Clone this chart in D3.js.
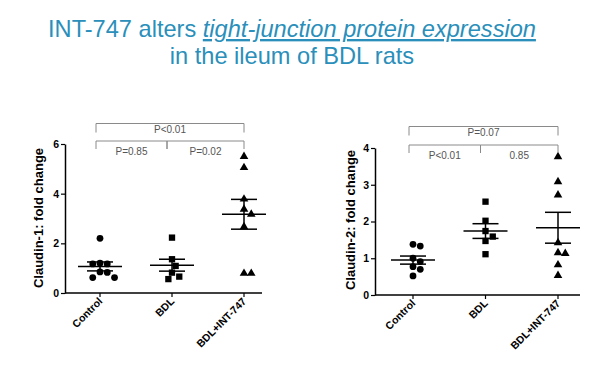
<!DOCTYPE html>
<html>
<head>
<meta charset="utf-8">
<script src="https://cdn.jsdelivr.net/npm/d3@7"></script>
<style>
  body { margin: 0; background: #fff; }
  svg { font-family: "Liberation Sans", Arial, sans-serif; }
</style>
</head>
<body>
<div id="vis"></div>
<script>
// groups on the x axis
var groups = ["Control", "BDL", "BDL+INT-747"];
var shapes = ["circle", "square", "triangle"];

// claudin-1 values per group
var cld1Control = [2.2, 1.2, 1.17, 1.17, 0.85, 0.83, 0.62, 0.62];
var cld1BDL = [2.23, 1.36, 1.09, 0.82, 0.66, 0.56];
var cld1INT = [5.5, 5.05, 3.78, 3.37, 3.17, 2.67, 0.79, 0.79];
var cld1Mean = [1.07, 1.12, 3.17];
var cld1Sem = [0.18, 0.24, 0.6];
var cld1Ticks = [0, 2, 4, 6];

// claudin-2 values per group
var cld2Control = [1.38, 1.33, 1.0, 0.91, 0.77, 0.7, 0.52];
var cld2BDL = [2.54, 2.02, 1.74, 1.59, 1.47, 1.11];
var cld2INT = [3.76, 3.08, 2.72, 1.42, 1.15, 1.13, 0.82, 0.53];
var cld2Mean = [0.95, 1.74, 1.83];
var cld2Sem = [0.11, 0.2, 0.42];
var cld2Ticks = [0, 1, 2, 3, 4];

// p-value labels: [upper long bracket, left short, right short]
var cld1P = ["P<0.01", "P=0.85", "P=0.02"];
var cld2P = ["P=0.07", "P<0.01", "0.85"];

var width = 609, height = 375;
var titleColor = "#2a8fba";

var svg = d3.select("#vis").append("svg")
  .attr("width", width)
  .attr("height", height);

// title
var title = svg.append("text")
  .attr("x", 292)
  .attr("y", 37)
  .attr("text-anchor", "middle")
  .attr("fill", titleColor)
  .style("font-size", "23.6px");
title.append("tspan").text("INT-747 alters ");
title.append("tspan")
  .style("font-style", "italic")
  .style("text-decoration", "underline")
  .text("tight-junction protein expression");

svg.append("text")
  .attr("x", 292)
  .attr("y", 64)
  .attr("text-anchor", "middle")
  .attr("fill", titleColor)
  .style("font-size", "23.6px")
  .text("in the ileum of BDL rats");

// simple dodge so points of similar value sit side by side
function dodge(values, y, r) {
  var placed = [];
  var sorted = values.map(function(v, i) { return {v: v, i: i}; })
    .sort(function(a, b) { return b.v - a.v; });
  sorted.forEach(function(p) {
    var py = y(p.v);
    var candidates = [0];
    for (var k = 1; k < 10; k++) { candidates.push(k * r * 1.1, -k * r * 1.1); }
    for (var c = 0; c < candidates.length; c++) {
      var ok = placed.every(function(q) {
        var dx = q.dx - candidates[c], dy = q.py - py;
        return dx * dx + dy * dy >= (2 * r) * (2 * r) * 1.1;
      });
      if (ok) { placed.push({dx: candidates[c], py: py, v: p.v}); break; }
    }
  });
  return placed;
}

function drawPanel(opt) {
  var g = svg.append("g");
  var x = d3.scalePoint().domain(groups).range(opt.xr);
  var y = d3.scaleLinear().domain([0, opt.ymax]).range([opt.y0, opt.y1]);

  // y axis
  var yAxis = g.append("g")
    .attr("transform", "translate(" + opt.axisX + ",0)")
    .call(d3.axisLeft(y).tickValues(opt.ticks).tickFormat(d3.format("d")).tickSize(4).tickSizeOuter(0));
  yAxis.select(".domain").attr("stroke-width", 1.5);
  yAxis.selectAll(".tick line").attr("stroke-width", 1.2);
  yAxis.selectAll("text")
    .style("font-size", "10.5px")
    .style("font-weight", "bold")
    .attr("x", -6);

  // x axis
  var xAxis = g.append("g")
    .attr("transform", "translate(0," + opt.y0 + ")");
  xAxis.append("line")
    .attr("x1", opt.axisX).attr("x2", opt.xEnd)
    .attr("stroke", "#000").attr("stroke-width", 1.5);
  groups.forEach(function(d) {
    xAxis.append("line")
      .attr("x1", x(d)).attr("x2", x(d))
      .attr("y1", 0).attr("y2", 4)
      .attr("stroke", "#000").attr("stroke-width", 1.2);
    xAxis.append("text")
      .attr("transform", "translate(" + (x(d) + 3) + ",9) rotate(-45)")
      .attr("text-anchor", "end")
      .style("font-size", "10.5px")
      .style("font-weight", "bold")
      .text(d);
  });

  // y label
  g.append("text")
    .attr("transform", "translate(" + opt.labelX + "," + opt.labelY + ") rotate(-90)")
    .attr("text-anchor", "middle")
    .style("font-size", "13px")
    .style("font-weight", "bold")
    .text(opt.label);

  // points
  var r = 3.3;
  opt.series.forEach(function(vals, gi) {
    var cx = x(groups[gi]);
    var pts = dodge(vals, y, r);
    var sym = shapes[gi] === "circle" ? d3.symbolCircle :
              shapes[gi] === "square" ? d3.symbolSquare : d3.symbolTriangle;
    var size = shapes[gi] === "circle" ? 36 : shapes[gi] === "square" ? 40 : 32;
    g.selectAll(".pt" + gi)
      .data(pts)
      .enter().append("path")
      .attr("d", d3.symbol().type(sym).size(size))
      .attr("transform", function(p) { return "translate(" + (cx + p.dx) + "," + p.py + ")"; })
      .attr("fill", "#000");

    // mean and sem
    var m = opt.mean[gi], s = opt.sem[gi];
    g.append("line")
      .attr("x1", cx - 22).attr("x2", cx + 22)
      .attr("y1", y(m)).attr("y2", y(m))
      .attr("stroke", "#000").attr("stroke-width", 1.5);
    g.append("line")
      .attr("x1", cx).attr("x2", cx)
      .attr("y1", y(m - s)).attr("y2", y(m + s))
      .attr("stroke", "#000").attr("stroke-width", 1.5);
    [m - s, m + s].forEach(function(v) {
      g.append("line")
        .attr("x1", cx - 13).attr("x2", cx + 13)
        .attr("y1", y(v)).attr("y2", y(v))
        .attr("stroke", "#000").attr("stroke-width", 1.5);
    });
  });

  // significance brackets
  var bc = "#8a8a8a";
  var xa = x(groups[0]) - 4, xb = x(groups[1]) - 5, xc = x(groups[2]);
  function bracket(x1, x2, top, drop) {
    g.append("path")
      .attr("d", "M" + x1 + "," + (top + drop) + "V" + top + "H" + x2 + "V" + (top + drop))
      .attr("fill", "none").attr("stroke", bc).attr("stroke-width", 1);
  }
  bracket(xa, xc, opt.b1, 9);
  bracket(xa, xb, opt.b2, 8);
  bracket(xb, xc, opt.b2, 8);
  var labels = [[ (xa + xc) / 2, opt.b1 + 9.5, opt.p[0] ],
                [ (xa + xb) / 2, opt.b2 + 13.5, opt.p[1] ],
                [ (xb + xc) / 2, opt.b2 + 13.5, opt.p[2] ]];
  labels.forEach(function(l) {
    g.append("text")
      .attr("x", l[0]).attr("y", l[1])
      .attr("text-anchor", "middle")
      .attr("fill", "#555")
      .style("font-size", "10px")
      .text(l[2]);
  });
}

drawPanel({
  xr: [100, 244], axisX: 65, xEnd: 262, y0: 293, y1: 144, ymax: 6,
  ticks: cld1Ticks, labelX: 43, labelY: 218, label: "Claudin-1: fold change",
  series: [cld1Control, cld1BDL, cld1INT], mean: cld1Mean, sem: cld1Sem,
  b1: 123.5, b2: 141, p: cld1P
});

drawPanel({
  xr: [413, 558], axisX: 375, xEnd: 580, y0: 295, y1: 148, ymax: 4,
  ticks: cld2Ticks, labelX: 355, labelY: 220, label: "Claudin-2: fold change",
  series: [cld2Control, cld2BDL, cld2INT], mean: cld2Mean, sem: cld2Sem,
  b1: 126.5, b2: 145, p: cld2P
});
</script>
</body>
</html>
